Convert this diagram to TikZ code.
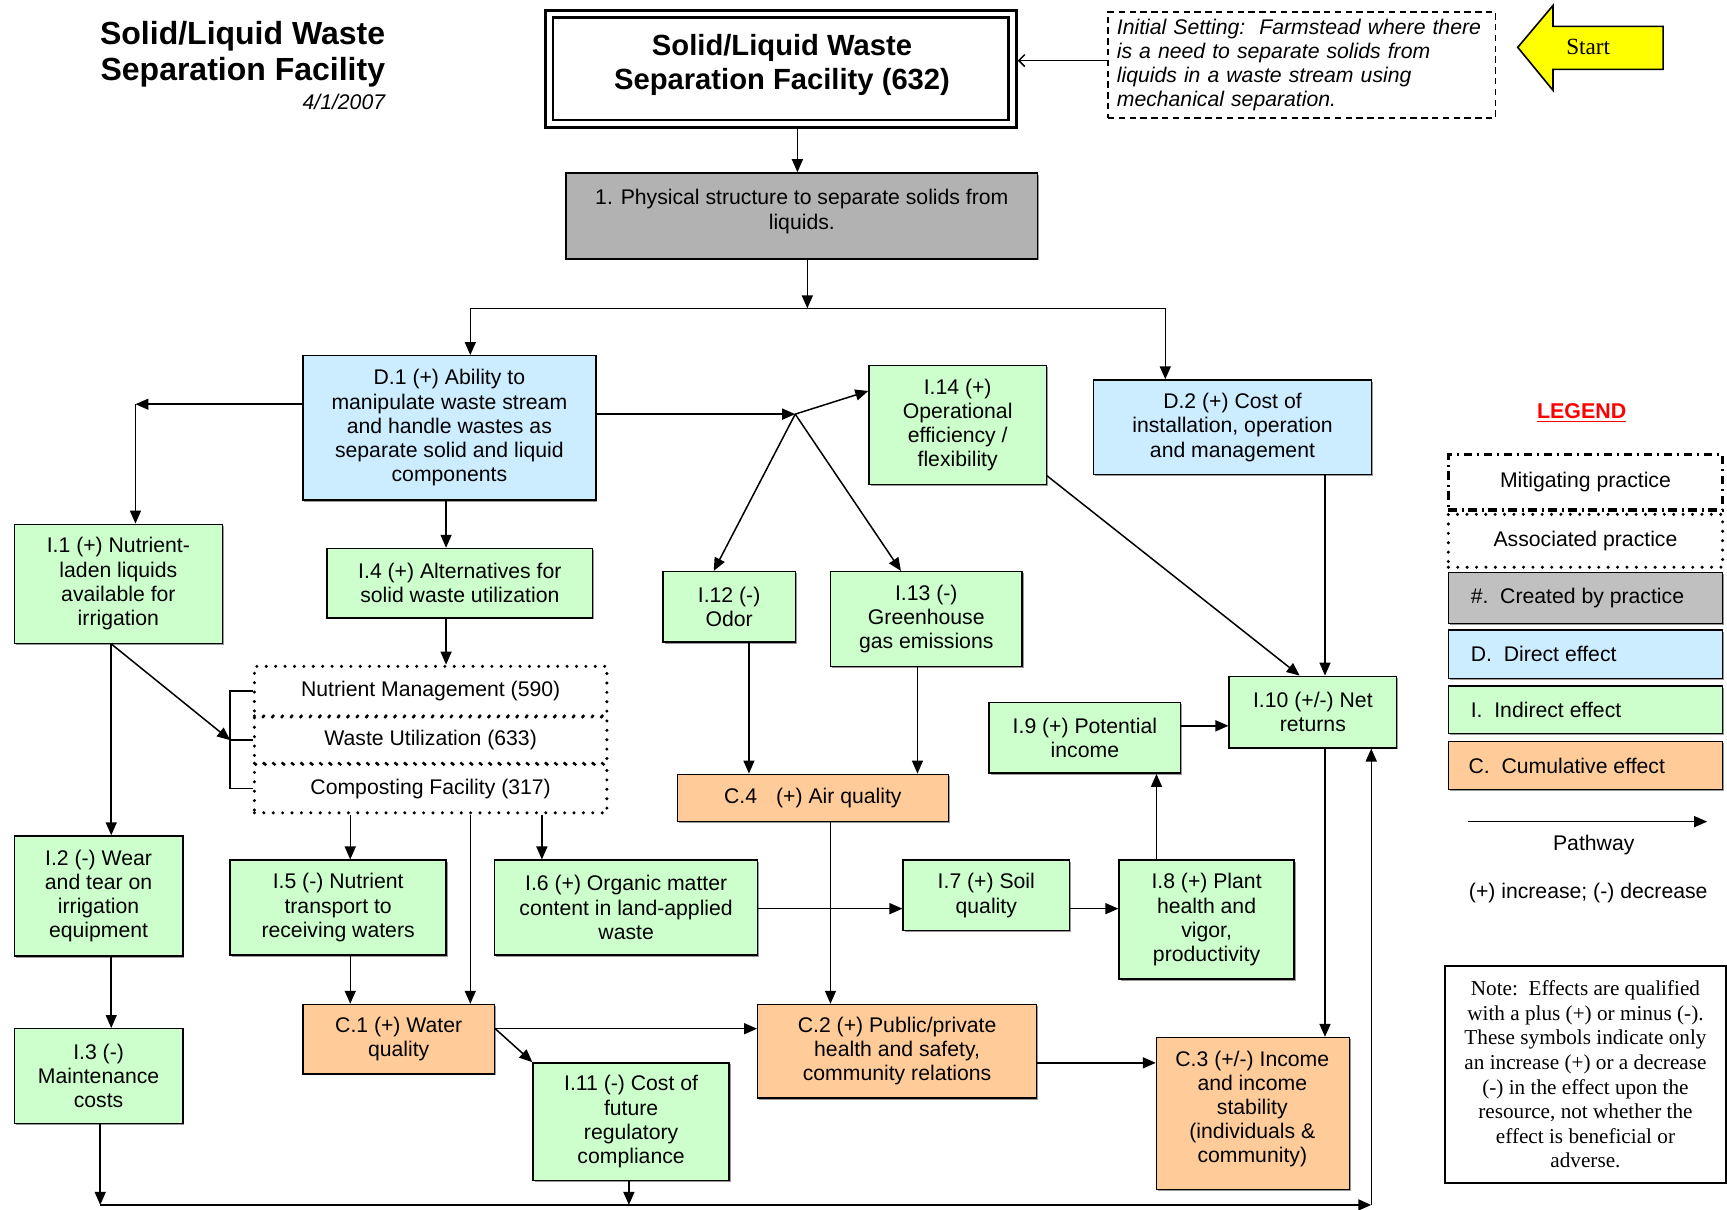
\documentclass[tikz,border=0pt]{standalone}
\usepackage{fontspec}
\setmainfont{Liberation Sans}
\newfontfamily\timesfont{Liberation Serif}
\usetikzlibrary{arrows.meta,shadows}

\definecolor{indgreen}{HTML}{CCFFCC}
\definecolor{dirblue}{HTML}{CCECFF}
\definecolor{cumorange}{HTML}{FFCC99}
\definecolor{practgray}{HTML}{B2B2B2}
\definecolor{keygray}{HTML}{C0C0C0}
\definecolor{startyellow}{HTML}{FFFF00}
\definecolor{legred}{HTML}{FF0000}

\begin{document}
\begin{tikzpicture}[x=0.5507pt,y=-0.5507pt,
  every node/.style={inner sep=0pt},
  % a box given by its left, top, right and bottom edges
  spot/.style n args={4}{anchor=center, at={({(#1+#3)/2},{(#2+#4)/2})},
    minimum width={(#3-#1)*0.5507pt}, minimum height={(#4-#2)*0.5507pt}},
  txt/.style={font=\fontsize{10.6}{12.1}\selectfont, align=center},
  boxbase/.style={draw, line width=0.7pt, inner sep=0pt, txt,
    drop shadow={shadow xshift=0.8pt, shadow yshift=-0.8pt, fill=black!40, opacity=1}},
  ibox/.style={boxbase, fill=indgreen},
  dbox/.style={boxbase, fill=dirblue},
  cbox/.style={boxbase, fill=cumorange},
  pbox/.style={boxbase, fill=practgray},
  kbox/.style={boxbase, fill=#1},
  keytext/.style={txt, anchor=west},
  assoc/.style={draw, line width=1.7pt, line cap=round, dash pattern=on 0pt off 4.7pt, inner sep=0pt, txt},
  mitig/.style={draw, line width=1.6pt, dash pattern=on 4.2pt off 2.4pt on 1pt off 2.4pt, inner sep=0pt, txt},
  titlebox/.style={draw, line width=1.38pt, double, double distance=2.37pt, outer sep=2.6pt, inner sep=0pt},
  line/.style={line width=0.75pt},
  arr/.style={line width=0.75pt, -{Triangle[length=6.5pt,width=5.5pt]}},
  thinarr/.style={line width=0.75pt, -{Straight Barb[length=3pt,width=6pt]}},
  startarrow/.style={draw, line width=0.8pt, fill=startyellow, line join=miter}
]
\fill[white] (0,0) rectangle (1568,1098);
\useasboundingbox (0,0) rectangle (1568,1098);

% ---------- headings ----------
\node[font=\bfseries\fontsize{16}{18.2}\selectfont, align=right, anchor=east] (maintitle) at (350,49)
  {Solid/Liquid Waste\\Separation Facility};
\node[font=\itshape\fontsize{10.6}{12.1}\selectfont, anchor=east] (date) at (350,93) {4/1/2007};

\node[titlebox, spot={498.7}{12.7}{919.3}{112.3}] (title) {};
\node[font=\bfseries\fontsize{14.6}{17}\selectfont, align=center] (titletext) at (710,59)
  {Solid/Liquid Waste\\Separation Facility (632)};

\node[draw, line width=0.75pt, dash pattern=on 3.2pt off 2.2pt, spot={1006}{11}{1358}{107},
  font=\itshape\fontsize{10.6}{12.1}\selectfont, text width=185pt, align=left] (init)
  {Initial Setting:~~Farmstead where there\\is a need to separate solids from\\liquids in a waste stream using\\mechanical separation.};

% start arrow
\draw[startarrow] (1378,43) -- (1410,5) -- (1410,24) -- (1510,24) -- (1510,63)
  -- (1410,63) -- (1410,82) -- cycle;
\node[font=\timesfont\fontsize{11.6}{13}\selectfont] (start) at (1442,43) {Start};

% ---------- practice ----------
\node[pbox, spot={514}{157}{942}{235}] (gray) {};
\node[txt] (graytext) at (728,192) {1. Physical structure to separate solids from\\liquids.};

% ---------- direct effects ----------
\node[dbox, spot={275}{323}{541}{454}] (d1)
  {D.1 (+) Ability to\\manipulate waste stream\\and handle wastes as\\separate solid and liquid\\components};
\node[dbox, spot={993}{345}{1245}{431}] (d2)
  {D.2 (+) Cost of\\installation, operation\\and management};

% ---------- indirect effects ----------
\node[ibox, spot={13}{476}{202}{584}] (i1) {I.1 (+) Nutrient-\\laden liquids\\available for\\irrigation};
\node[ibox, spot={297}{498}{538}{561}] (i4) {I.4 (+) Alternatives for\\solid waste utilization};
\node[ibox, spot={602}{519}{722}{583}] (i12) {I.12 (-)\\Odor};
\node[ibox, spot={754}{519}{928}{605}] (i13) {I.13 (-)\\Greenhouse\\gas emissions};
\node[ibox, spot={789}{332}{950}{440}] (i14) {I.14 (+)\\Operational\\efficiency /\\flexibility};
\node[ibox, spot={1116}{614}{1268}{679}] (i10) {I.10 (+/-) Net\\returns};
\node[ibox, spot={898}{638}{1072}{702}] (i9) {I.9 (+) Potential\\income};
\node[ibox, spot={13}{759}{166}{868}] (i2) {I.2 (-) Wear\\and tear on\\irrigation\\equipment};
\node[ibox, spot={13}{934}{166}{1020}] (i3) {I.3 (-)\\Maintenance\\costs};
\node[ibox, spot={209}{781}{405}{867}] (i5) {I.5 (-) Nutrient\\transport to\\receiving waters};
\node[ibox, spot={449}{781}{688}{867}] (i6) {I.6 (+) Organic matter\\content in land-applied\\waste};
\node[ibox, spot={820}{781}{971}{845}] (i7) {I.7 (+) Soil\\quality};
\node[ibox, spot={1016}{781}{1175}{889}] (i8) {I.8 (+) Plant\\health and\\vigor,\\productivity};
\node[ibox, spot={484}{965}{662}{1072}] (i11) {I.11 (-) Cost of\\future\\regulatory\\compliance};

% ---------- associated practices ----------
\node[assoc, spot={231}{605}{551}{650}] (nm) {Nutrient Management (590)};
\node[assoc, spot={231}{651}{551}{693}] (wu) {Waste Utilization (633)};
\node[assoc, spot={231}{694}{551}{738}] (cf) {Composting Facility (317)};

% ---------- cumulative effects ----------
\node[cbox, spot={615}{703}{861}{746}] (c4) {C.4\hspace{0.9em}(+) Air quality};
\node[cbox, spot={275}{912}{449}{975}] (c1) {C.1 (+) Water\\quality};
\node[cbox, spot={688}{912}{941}{997}] (c2) {C.2 (+) Public/private\\health and safety,\\community relations};
\node[cbox, spot={1050}{942}{1225}{1080}] (c3) {};
\node[txt] (c3text) at (1137,1007) {C.3 (+/-) Income\\and income\\stability\\(individuals \&\\community)};

% ---------- legend ----------
\node[font=\bfseries\fontsize{10.7}{12}\selectfont, text=legred] (legend) at (1436,375) {\underline{LEGEND}};
\node[mitig, spot={1315}{413}{1564}{463}] (kmit) {Mitigating practice};
\node[assoc, spot={1315}{467}{1564}{515}] (kass) {Associated practice};
\node[kbox=keygray, spot={1315}{520}{1564}{566}] (kgray) {};
\node[kbox=dirblue, spot={1315}{572}{1564}{616}] (kblue) {};
\node[kbox=indgreen, spot={1315}{623}{1564}{666}] (kgreen) {};
\node[kbox=cumorange, spot={1315}{673}{1564}{717}] (korange) {};
\node[keytext] (kgraytext) at (kgray.west -| 1335,0) {\#.~~Created by practice};
\node[keytext] (kbluetext) at (kblue.west -| 1335,0) {D.~~Direct effect};
\node[keytext] (kgreentext) at (kgreen.west -| 1335,0) {I.~~Indirect effect};
\node[keytext] (korangetext) at (korange.west -| 1333,0) {C.~~Cumulative effect};
\coordinate (pw1) at (1333,746);
\coordinate (pw2) at (1550,746);
\draw[arr] (pw1) -- (pw2);
\node[txt] (pathway) at (1447,767) {Pathway};
\node[txt] (signs) at (1442,811) {(+) increase; (-) decrease};
\node[draw, line width=0.75pt, spot={1312}{877}{1567}{1074}, align=center,
  font=\timesfont\fontsize{10.6}{12.3}\selectfont] (note)
  {Note:~~Effects are qualified\\with a plus (+) or minus (-).\\These symbols indicate only\\an increase (+) or a decrease\\(-) in the effect upon the\\resource, not whether the\\effect is beneficial or\\adverse.};

% ---------- pathways ----------
\draw[thinarr] (init.west |- 0,55) -- (title.east |- 0,55);
\draw[arr] (title.south -| 724,0) -- (gray.north -| 724,0);
\coordinate (split) at (733,280);
\coordinate (spL) at (427,280);
\coordinate (spR) at (1058,280);
\draw[arr] (gray.south -| split) -- (split);
\draw[line] (spL) -- (spR);
\draw[arr] (spL) -- (d1.north -| spL);
\draw[arr] (spR) -- (d2.north -| spR);

\coordinate (cl) at (123,367);
\draw[arr] (d1.west |- cl) -- (cl);
\draw[arr] (cl) -- (i1.north -| cl);
\coordinate (hub) at (722,376);
\draw[arr] (d1.east |- hub) -- (hub);
\draw[arr] (hub) -- (i14.west |- 0,355);
\draw[arr] (hub) -- (i12.north -| 648,0);
\draw[arr] (hub) -- (i13.north -| 818,0);
\draw[arr] (d1.south -| 405,0) -- (i4.north -| 405,0);
\draw[arr] (i4.south -| 405,0) -- (nm.north -| 405,0);

\draw[arr] (i1.south -| 101,0) -- (i2.north -| 101,0);
\coordinate (brk) at (wu.west -| 209,0);
\draw[arr] (i1.south -| 101,0) -- (brk);
\draw[line] (nm.west) -| (cf.west -| brk) -- (cf.west);
\draw[line] (brk) -- (wu.west);

\draw[arr] (cf.south -| 318,0) -- (i5.north -| 318,0);
\draw[arr] (cf.south -| 492,0) -- (i6.north -| 492,0);
\draw[arr] (cf.south -| 427,0) -- (c1.north -| 427,0);
\draw[arr] (i12.south -| 680,0) -- (c4.north -| 680,0);
\draw[arr] (i13.south -| 833,0) -- (c4.north -| 833,0);
\draw[arr] (i14.east |- 0,432) -- (i10.north -| 1180,0);
\draw[arr] (d2.south -| 1203,0) -- (i10.north -| 1203,0);
\draw[arr] (i9.east |- 0,659) -- (i10.west |- 0,659);
\draw[arr] (i8.north -| 1050,0) -- (i9.south -| 1050,0);
\draw[arr] (i6.east |- 0,825) -- (i7.west |- 0,825);
\draw[arr] (i7.east |- 0,825) -- (i8.west |- 0,825);
\draw[arr] (c4.south -| 754,0) -- (c2.north -| 754,0);
\draw[arr] (i2.south -| 101,0) -- (i3.north -| 101,0);
\draw[arr] (i5.south -| 318,0) -- (c1.north -| 318,0);
\draw[arr] (c1.east |- 0,934) -- (c2.west |- 0,934);
\draw[arr] (c1.east |- 0,934) -- (i11.north west);
\draw[arr] (c2.east |- 0,965) -- (c3.west |- 0,965);
\draw[arr] (i10.south -| 1203,0) -- (c3.north -| 1203,0);

\coordinate (bl) at (91,1094);
\coordinate (bm) at (571,1094);
\coordinate (br) at (1245,1094);
\draw[arr] (i3.south -| bl) -- (bl);
\draw[arr] (i11.south -| bm) -- (bm);
\draw[arr, line width=1pt] (bl) -- (br);
\draw[arr] (br) -- (i10.south -| br);
\end{tikzpicture}
\end{document}
